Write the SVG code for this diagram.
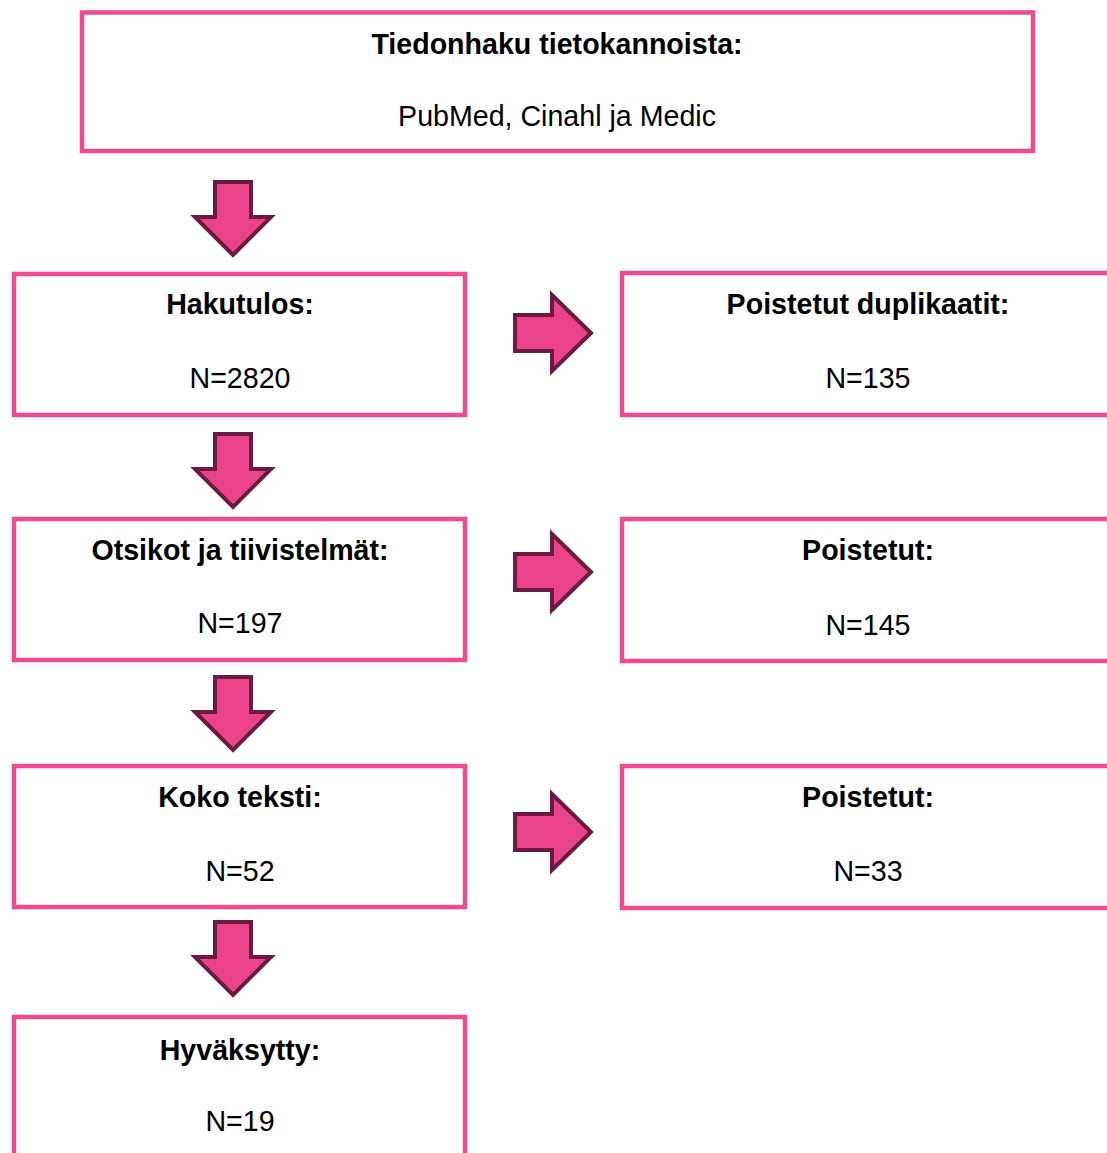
<svg xmlns="http://www.w3.org/2000/svg" width="1107" height="1153" viewBox="0 0 1107 1153">
<defs>
<style>
.box{fill:#ffffff;stroke:#ee4b90;stroke-width:4.5}
.arr{fill:#ea4389;stroke:#6b1a42;stroke-width:4;stroke-linejoin:miter}
.t{font-family:"Liberation Sans",Arial,sans-serif;font-size:28.6px;fill:#000;text-anchor:middle}
.b{font-weight:bold}
</style>
<path id="down" d="M0,2 H36 V37 H56 L18,75 L-20,37 H0 Z"/>
<path id="right" d="M0,-18 H37 V-38 L76,0 L37,38 V18 H0 Z"/>
</defs>
<rect width="1107" height="1153" fill="#ffffff"/>
<g id="connectors">
<use href="#down" class="arr" x="215" y="180"/>
<use href="#down" class="arr" x="215" y="432"/>
<use href="#down" class="arr" x="215" y="675"/>
<use href="#down" class="arr" x="215" y="920"/>
<use href="#right" class="arr" x="515" y="333"/>
<use href="#right" class="arr" x="515" y="572"/>
<use href="#right" class="arr" x="515" y="832"/>
</g>
<g id="n-source">
<rect class="box" x="82" y="12.5" width="951" height="138.5"/>
<text class="t b" x="557" y="54">Tiedonhaku tietokannoista:</text>
<text class="t" x="557" y="126">PubMed, Cinahl ja Medic</text>
</g>
<g id="n-hakutulos">
<rect class="box" x="14" y="274" width="451" height="141"/>
<text class="t b" x="240" y="314">Hakutulos:</text>
<text class="t" x="240" y="388">N=2820</text>
</g>
<g id="n-duplikaatit">
<rect class="box" x="622" y="273" width="492" height="142"/>
<text class="t b" x="868" y="314">Poistetut duplikaatit:</text>
<text class="t" x="868" y="388">N=135</text>
</g>
<g id="n-otsikot">
<rect class="box" x="14" y="519" width="451" height="141"/>
<text class="t b" x="240" y="560">Otsikot ja tiivistelmät:</text>
<text class="t" x="240" y="633">N=197</text>
</g>
<g id="n-poistetut1">
<rect class="box" x="622" y="519" width="492" height="142"/>
<text class="t b" x="868" y="560">Poistetut:</text>
<text class="t" x="868" y="635">N=145</text>
</g>
<g id="n-koko">
<rect class="box" x="14" y="766" width="451" height="141"/>
<text class="t b" x="240" y="807">Koko teksti:</text>
<text class="t" x="240" y="881">N=52</text>
</g>
<g id="n-poistetut2">
<rect class="box" x="622" y="766" width="492" height="142"/>
<text class="t b" x="868" y="807">Poistetut:</text>
<text class="t" x="868" y="881">N=33</text>
</g>
<g id="n-hyvaksytty">
<rect class="box" x="14" y="1017" width="451" height="160"/>
<text class="t b" x="240" y="1060">Hyväksytty:</text>
<text class="t" x="240" y="1131">N=19</text>
</g>
</svg>
